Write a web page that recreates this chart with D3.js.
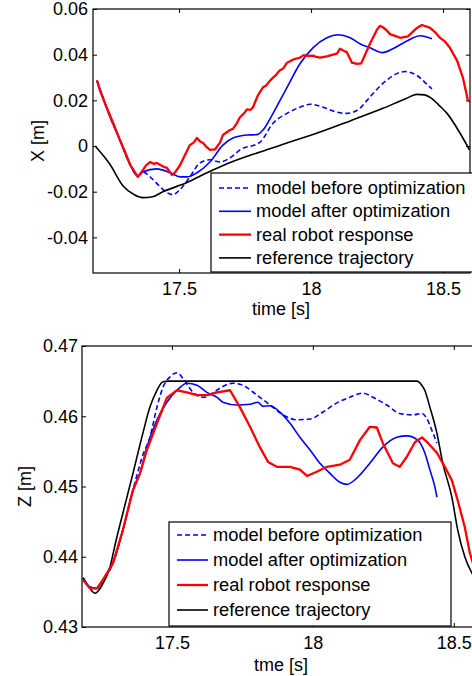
<!DOCTYPE html>
<html>
<head>
<meta charset="utf-8">
<script src="https://cdn.jsdelivr.net/npm/d3@7"></script>
<style>
  body { margin: 0; background: #fff; overflow: hidden; }
  svg { display: block; font-family: "Liberation Sans", Arial, sans-serif; }
  .tick text { font-size: 18px; fill: #000; }
  .tick line { stroke: #000; }
</style>
</head>
<body>
<svg id="fig" width="472" height="676"></svg>
<script>
// ---- data: X plot (top) ----
var xRefT = [17.182,17.238,17.288,17.326,17.363,17.400,17.439,17.530,17.610,17.682,17.807,17.909,18.034,18.148,18.272,18.360,18.401,18.430,18.451,18.488,18.515,18.564,18.600];
var xRefV = [0.0,-0.0080,-0.0175,-0.0210,-0.0226,-0.0222,-0.0200,-0.0160,-0.0115,-0.0078,-0.0026,0.0013,0.0061,0.0110,0.0165,0.0208,0.0226,0.0224,0.0213,0.0175,0.0143,0.0057,-0.0017];

var xBeforeT = [17.189,17.238,17.276,17.314,17.344,17.363,17.390,17.428,17.454,17.477,17.504,17.541,17.579,17.617,17.655,17.693,17.731,17.807,17.856,17.909,17.958,17.996,18.045,18.098,18.136,18.185,18.212,18.272,18.325,18.356,18.401,18.432,18.458];
var xBeforeV = [0.0287,0.0130,0.0026,-0.0080,-0.0132,-0.0113,-0.0135,-0.0178,-0.0204,-0.0213,-0.0190,-0.0135,-0.0074,-0.0060,-0.0070,-0.0052,-0.0017,0.0017,0.0100,0.0143,0.0170,0.0183,0.0170,0.0148,0.0143,0.0165,0.0200,0.0274,0.0317,0.0326,0.0309,0.0278,0.0250];

var xAfterT = [17.189,17.238,17.276,17.314,17.344,17.363,17.416,17.466,17.504,17.530,17.568,17.617,17.666,17.704,17.757,17.795,17.818,17.856,17.909,17.958,18.007,18.060,18.102,18.148,18.185,18.223,18.272,18.310,18.363,18.413,18.458];
var xAfterV = [0.0287,0.0130,0.0026,-0.0080,-0.0132,-0.0113,-0.0100,-0.0117,-0.0135,-0.0135,-0.0117,-0.0070,0.0004,0.0035,0.0048,0.0050,0.0070,0.0143,0.0257,0.0360,0.0430,0.0474,0.0487,0.0474,0.0448,0.0430,0.0409,0.0426,0.0460,0.0483,0.0470];

var xRobotT = [17.189,17.200,17.220,17.238,17.256,17.276,17.295,17.314,17.330,17.344,17.360,17.375,17.390,17.405,17.416,17.440,17.454,17.473,17.485,17.504,17.520,17.541,17.555,17.568,17.580,17.591,17.605,17.617,17.636,17.655,17.666,17.693,17.704,17.718,17.730,17.745,17.757,17.770,17.780,17.790,17.800,17.818,17.830,17.840,17.856,17.868,17.880,17.895,17.909,17.922,17.935,17.958,17.972,17.985,18.007,18.020,18.034,18.060,18.083,18.098,18.110,18.122,18.136,18.155,18.174,18.190,18.223,18.250,18.261,18.272,18.285,18.299,18.318,18.337,18.367,18.401,18.420,18.451,18.470,18.488,18.507,18.526,18.553,18.575,18.594,18.602];
var xRobotV = [0.0287,0.0245,0.0185,0.0135,0.0085,0.0026,-0.0025,-0.0080,-0.0110,-0.0135,-0.0110,-0.0085,-0.0070,-0.0078,-0.0074,-0.0090,-0.0096,-0.0126,-0.0115,-0.0083,-0.0045,0.0004,0.0015,0.0035,0.0020,0.0013,-0.0005,-0.0017,-0.0015,0.0015,0.0048,0.0070,0.0075,0.0098,0.0125,0.0142,0.0160,0.0158,0.0170,0.0198,0.0225,0.0257,0.0265,0.0280,0.0300,0.0312,0.0330,0.0340,0.0365,0.0372,0.0380,0.0387,0.0398,0.0395,0.0396,0.0390,0.0387,0.0393,0.0400,0.0405,0.0426,0.0418,0.0410,0.0365,0.0360,0.0362,0.0448,0.0510,0.0526,0.0520,0.0508,0.0490,0.0482,0.0474,0.0480,0.0517,0.0530,0.0517,0.0498,0.0474,0.0458,0.0430,0.0374,0.0300,0.0200,0.0195];

// ---- data: Z plot (bottom) ----
var zRefT = [17.185,17.209,17.227,17.250,17.280,17.300,17.326,17.362,17.397,17.422,17.447,17.468,17.490,18.369,18.385,18.397,18.415,18.440,18.461,18.493,18.514,18.539,18.564,18.600];
var zRefV = [0.4370,0.4355,0.4348,0.4358,0.4385,0.4420,0.4462,0.4519,0.4576,0.4613,0.4637,0.4649,0.4650,0.4650,0.4645,0.4637,0.4613,0.4576,0.4533,0.4485,0.4438,0.4400,0.4377,0.4360];

var zBeforeT = [17.185,17.209,17.234,17.255,17.291,17.326,17.362,17.397,17.422,17.447,17.468,17.493,17.518,17.539,17.575,17.610,17.645,17.670,17.716,17.752,17.802,17.848,17.894,17.943,17.990,18.036,18.085,18.131,18.177,18.213,18.262,18.308,18.355,18.387,18.404,18.422,18.440];
var zBeforeV = [0.4370,0.4357,0.4355,0.4367,0.4391,0.4438,0.4495,0.4545,0.4570,0.4613,0.4641,0.4656,0.4662,0.4654,0.4634,0.4627,0.4633,0.4640,0.4647,0.4644,0.4630,0.4616,0.4602,0.4595,0.4596,0.4606,0.4619,0.4627,0.4633,0.4627,0.4616,0.4604,0.4602,0.4604,0.4597,0.4580,0.4562];

var zAfterT = [17.185,17.209,17.234,17.255,17.291,17.326,17.362,17.387,17.411,17.447,17.482,17.518,17.553,17.589,17.624,17.660,17.681,17.731,17.777,17.805,17.823,17.848,17.883,17.919,17.954,17.990,18.025,18.060,18.096,18.121,18.156,18.202,18.248,18.298,18.333,18.372,18.397,18.415,18.433,18.440];
var zAfterV = [0.4370,0.4357,0.4355,0.4367,0.4391,0.4438,0.4495,0.4519,0.4556,0.4595,0.4620,0.4637,0.4647,0.4644,0.4634,0.4627,0.4620,0.4616,0.4617,0.4620,0.4614,0.4615,0.4606,0.4590,0.4570,0.4552,0.4533,0.4519,0.4506,0.4503,0.4512,0.4533,0.4556,0.4570,0.4572,0.4566,0.4548,0.4524,0.4499,0.4485];

var zRobotT = [17.185,17.209,17.234,17.255,17.291,17.326,17.362,17.387,17.411,17.447,17.482,17.518,17.553,17.589,17.624,17.660,17.706,17.741,17.777,17.812,17.841,17.872,17.919,17.954,17.979,18.014,18.050,18.096,18.131,18.167,18.202,18.227,18.248,18.284,18.308,18.333,18.362,18.387,18.408,18.440,18.468,18.493,18.514,18.539,18.557,18.580,18.600];
var zRobotV = [0.4367,0.4355,0.4355,0.4367,0.4391,0.4438,0.4495,0.4519,0.4552,0.4590,0.4626,0.4637,0.4634,0.4630,0.4630,0.4634,0.4637,0.4613,0.4585,0.4556,0.4535,0.4528,0.4528,0.4524,0.4515,0.4521,0.4528,0.4531,0.4538,0.4566,0.4585,0.4584,0.4562,0.4533,0.4528,0.4542,0.4563,0.4570,0.4562,0.4548,0.4528,0.4509,0.4480,0.4442,0.4405,0.4375,0.4350];

var legendNames = ["model before optimization","model after optimization","real robot response","reference trajectory"];
var xTicks = [17.5, 18, 18.5];
var topYTicks = [0.06, 0.04, 0.02, 0, -0.02, -0.04];
var botYTicks = [0.47, 0.46, 0.45, 0.44, 0.43];

var styles = [
  {color: "#0000ff", width: 1.6, dash: "5,3", curve: d3.curveMonotoneX},
  {color: "#0000ff", width: 1.6, dash: null, curve: d3.curveMonotoneX},
  {color: "#ff0000", width: 2.3, dash: null, curve: d3.curveLinear},
  {color: "#000000", width: 1.6, dash: null, curve: d3.curveMonotoneX}
];

var svg = d3.select("#fig");

function zip(ts, vs) { return ts.map(function(t, i) { return [t, vs[i]]; }); }

function drawPanel(cfg) {
  var x = d3.scaleLinear().domain(cfg.xDomain).range([cfg.left, cfg.right]);
  var y = d3.scaleLinear().domain(cfg.yDomain).range([cfg.bottom, cfg.top]);
  var g = svg.append("g");

  var fmtY = function(d) {
    if (d === 0) return "0";
    return d3.format(cfg.yFmt)(d).replace("\u2212", "-");
  };

  g.append("g")
    .attr("transform", "translate(0," + cfg.bottom + ")")
    .call(d3.axisBottom(x).tickValues(xTicks).tickSize(-4).tickPadding(9).tickFormat(d3.format("")))
    .call(function(a) { a.select(".domain").remove(); });
  g.append("g")
    .attr("transform", "translate(0," + cfg.top + ")")
    .call(d3.axisTop(x).tickValues(xTicks).tickSize(-4).tickFormat(""))
    .call(function(a) { a.select(".domain").remove(); });
  g.append("g")
    .attr("transform", "translate(" + cfg.left + ",0)")
    .call(d3.axisLeft(y).tickValues(cfg.yTicks).tickSize(-4).tickPadding(cfg.yPad).tickFormat(fmtY))
    .call(function(a) { a.select(".domain").remove(); });
  g.append("g")
    .attr("transform", "translate(" + cfg.right + ",0)")
    .call(d3.axisRight(y).tickValues(cfg.yTicks).tickSize(-4).tickFormat(""))
    .call(function(a) { a.select(".domain").remove(); });

  var clipId = "clip" + cfg.id;
  svg.append("clipPath").attr("id", clipId).append("rect")
    .attr("x", cfg.left).attr("y", cfg.top)
    .attr("width", cfg.right - cfg.left).attr("height", cfg.bottom - cfg.top);

  var order = [0, 1, 3, 2];
  order.forEach(function(k) {
    var s = styles[k];
    var line = d3.line().x(function(d) { return x(d[0]); }).y(function(d) { return y(d[1]); }).curve(s.curve);
    g.append("path")
      .attr("clip-path", "url(#" + clipId + ")")
      .attr("d", line(cfg.series[k]))
      .attr("fill", "none")
      .attr("stroke", s.color)
      .attr("stroke-width", s.width)
      .attr("stroke-linejoin", "round")
      .attr("stroke-dasharray", s.dash);
  });

  g.append("rect")
    .attr("x", cfg.left).attr("y", cfg.top)
    .attr("width", cfg.right - cfg.left).attr("height", cfg.bottom - cfg.top)
    .attr("fill", "none").attr("stroke", "#000").attr("stroke-width", 1.2);

  // legend
  var L = cfg.legend;
  g.append("rect")
    .attr("x", L.x).attr("y", L.y).attr("width", L.w).attr("height", L.h)
    .attr("fill", "#fff").attr("stroke", "#000").attr("stroke-width", 1.2);
  legendNames.forEach(function(name, i) {
    var cy = L.y + L.first + i * L.step;
    var s = styles[i];
    g.append("line")
      .attr("x1", L.x + 8).attr("x2", L.x + 8 + L.lineLen)
      .attr("y1", cy).attr("y2", cy)
      .attr("stroke", s.color).attr("stroke-width", s.width)
      .attr("stroke-dasharray", s.dash);
    g.append("text")
      .attr("x", L.x + 8 + L.lineLen + 5).attr("y", cy + 6)
      .style("font-size", "18.3px").attr("fill", "#000")
      .text(name);
  });

  g.append("text")
    .attr("transform", "translate(" + cfg.yLabelX + "," + ((cfg.top + cfg.bottom) / 2) + ") rotate(-90)")
    .attr("text-anchor", "middle")
    .style("font-size", "18px")
    .text(cfg.yLabel);
  g.append("text")
    .attr("x", 281).attr("y", cfg.xLabelY)
    .attr("text-anchor", "middle")
    .style("font-size", "18px")
    .text(cfg.xLabel);
}

drawPanel({
  id: "top", left: 93, right: 470, top: 9, bottom: 273,
  xDomain: [17.174, 18.602], yDomain: [-0.0556, 0.06],
  yTicks: topYTicks, yFmt: ".2f", yPad: 5,
  series: [zip(xBeforeT, xBeforeV), zip(xAfterT, xAfterV), zip(xRobotT, xRobotV), zip(xRefT, xRefV)],
  legend: {x: 211, y: 173, w: 270, h: 99, first: 15, step: 23.3, lineLen: 32},
  yLabel: "X [m]", yLabelX: 44, xLabel: "time [s]", xLabelY: 315
});

drawPanel({
  id: "bot", left: 82, right: 482, top: 346, bottom: 627,
  xDomain: [17.181, 18.6], yDomain: [0.43, 0.47],
  yTicks: botYTicks, yFmt: ".2f", yPad: 4,
  series: [zip(zBeforeT, zBeforeV), zip(zAfterT, zAfterV), zip(zRobotT, zRobotV), zip(zRefT, zRefV)],
  legend: {x: 169, y: 522, w: 282, h: 104, first: 13, step: 25, lineLen: 31},
  yLabel: "Z [m]", yLabelX: 31, xLabel: "tme [s]", xLabelY: 671
});
</script>
</body>
</html>
